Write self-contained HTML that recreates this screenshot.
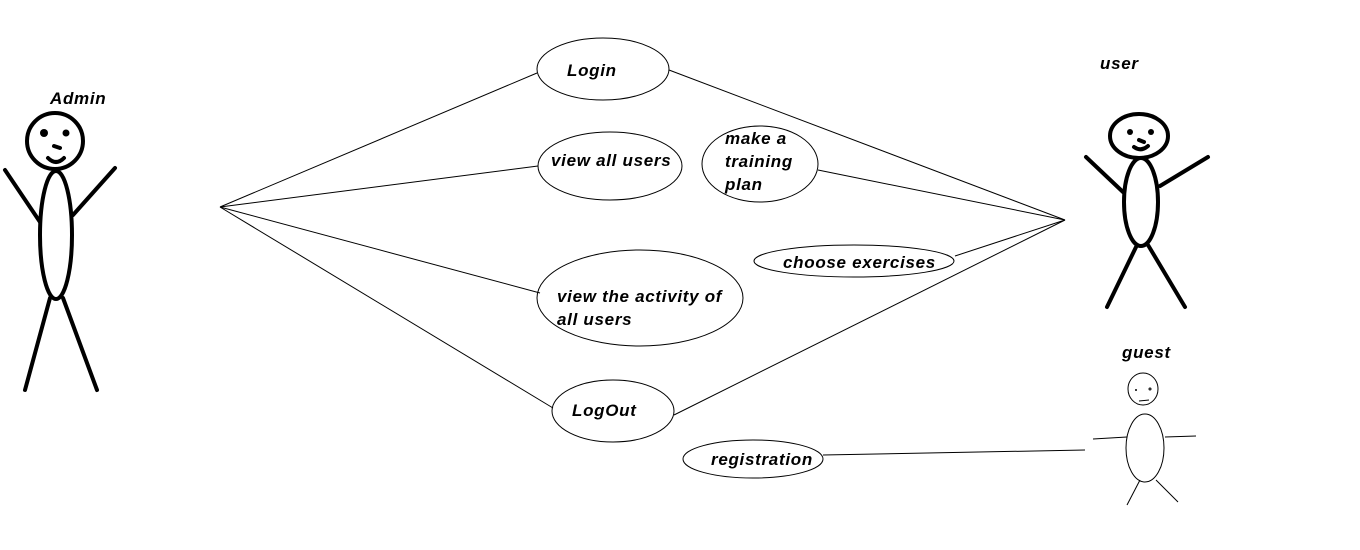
<!DOCTYPE html>
<html><head><style>
html,body{margin:0;padding:0;background:#fff;width:1360px;height:550px;overflow:hidden}
text{font-family:"Liberation Sans",sans-serif;font-weight:bold;font-style:italic;font-size:17px;letter-spacing:0.7px;fill:#000}
</style></head><body>
<svg width="1360" height="550" xmlns="http://www.w3.org/2000/svg">
<g stroke="#000" fill="none" stroke-width="1">
<line x1="220" y1="207" x2="537" y2="73"/>
<line x1="220" y1="207" x2="538" y2="166"/>
<line x1="220" y1="207" x2="540" y2="293"/>
<line x1="220" y1="207" x2="553" y2="408"/>
<line x1="1065" y1="220" x2="669" y2="70"/>
<line x1="1065" y1="220" x2="818" y2="170"/>
<line x1="1065" y1="220" x2="955" y2="256"/>
<line x1="1065" y1="220" x2="674" y2="415"/>
<line x1="823" y1="455" x2="1085" y2="450"/>
<ellipse cx="603" cy="69" rx="66" ry="31"/>
<ellipse cx="610" cy="166" rx="72" ry="34"/>
<ellipse cx="760" cy="164" rx="58" ry="38"/>
<ellipse cx="854" cy="261" rx="100" ry="16"/>
<ellipse cx="640" cy="298" rx="103" ry="48"/>
<ellipse cx="613" cy="411" rx="61" ry="31"/>
<ellipse cx="753" cy="459" rx="70" ry="19"/>
</g>
<g stroke="#000" fill="none" stroke-width="4" stroke-linecap="round">
<circle cx="55" cy="141" r="28"/>
<ellipse cx="56" cy="235" rx="16" ry="64"/>
<line x1="5" y1="170" x2="40" y2="222"/>
<line x1="115" y1="168" x2="73" y2="215"/>
<line x1="50" y1="298" x2="25" y2="390"/>
<line x1="63" y1="298" x2="97" y2="390"/>
<path d="M48 158 Q56 166 64 158"/>
<line x1="54" y1="146" x2="60" y2="148"/>
<ellipse cx="1139" cy="136" rx="29" ry="22"/>
<ellipse cx="1141" cy="202" rx="17" ry="44"/>
<line x1="1086" y1="157" x2="1123" y2="192"/>
<line x1="1208" y1="157" x2="1160" y2="186"/>
<line x1="1137" y1="245" x2="1107" y2="307"/>
<line x1="1148" y1="245" x2="1185" y2="307"/>
<path d="M1134 147 Q1141 152 1148 146"/>
<line x1="1139" y1="140" x2="1144" y2="142"/>
</g>
<g fill="#000">
<circle cx="44" cy="133" r="4"/><circle cx="66" cy="133" r="3.5"/>
<circle cx="1130" cy="132" r="3"/><circle cx="1151" cy="132" r="3"/>
</g>
<g stroke="#000" fill="none" stroke-width="1">
<ellipse cx="1143" cy="389" rx="15" ry="16"/>
<ellipse cx="1145" cy="448" rx="19" ry="34"/>
<line x1="1093" y1="439" x2="1127" y2="437"/>
<line x1="1165" y1="437" x2="1196" y2="436"/>
<line x1="1140" y1="480" x2="1127" y2="505"/>
<line x1="1156" y1="480" x2="1178" y2="502"/>
<line x1="1139" y1="401" x2="1149" y2="400"/>
<circle cx="1150" cy="389" r="1"/>
</g>
<circle cx="1136" cy="390" r="1" fill="#000"/>
<text x="50" y="104" font-size="15">Admin</text>
<text x="1100" y="69" font-size="15">user</text>
<text x="1122" y="358" font-size="14">guest</text>
<text x="567" y="76">Login</text>
<text x="551" y="166">view all users</text>
<text x="725" y="144">make a</text>
<text x="725" y="167">training</text>
<text x="725" y="190">plan</text>
<text x="783" y="268">choose exercises</text>
<text x="557" y="302">view the activity of</text>
<text x="557" y="325">all users</text>
<text x="572" y="416">LogOut</text>
<text x="711" y="465">registration</text>
</svg>
</body></html>
